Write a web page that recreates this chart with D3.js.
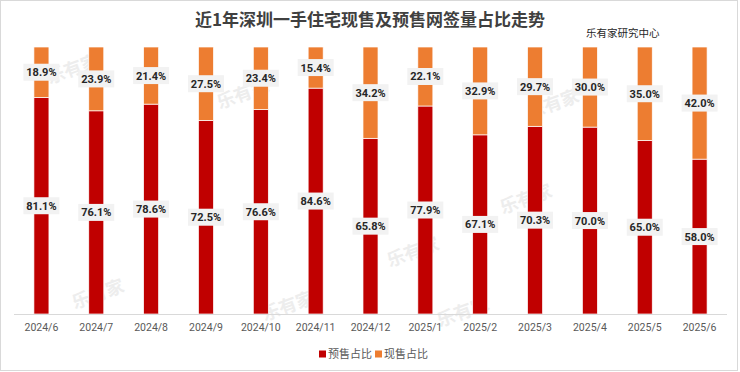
<!DOCTYPE html>
<html>
<head>
<meta charset="utf-8">
<script src="https://cdn.jsdelivr.net/npm/d3@7"></script>
<style>
  body { margin: 0; background: #fff; }
  svg { display: block; font-family: "Noto Sans CJK SC", "Microsoft YaHei", sans-serif; }
</style>
</head>
<body>
<div id="container"></div>
<script>

const months = ["2024/6", "2024/7", "2024/8", "2024/9", "2024/10", "2024/11", "2024/12",
                "2025/1", "2025/2", "2025/3", "2025/4", "2025/5", "2025/6"];
const presale = [81.1, 76.1, 78.6, 72.5, 76.6, 84.6, 65.8, 77.9, 67.1, 70.3, 70.0, 65.0, 58.0];
const spot = [18.9, 23.9, 21.4, 27.5, 23.4, 15.4, 34.2, 22.1, 32.9, 29.7, 30.0, 35.0, 42.0];
const seriesNames = ["预售占比", "现售占比"];
const colors = ["#C00000", "#ED7D31"];

function main() {
    const width = 740, height = 372;
    const svg = d3.select("#container")
        .append("svg")
        .attr("width", width)
        .attr("height", height);

    // frame
    svg.append("rect")
        .attr("x", 0.5).attr("y", 0.5)
        .attr("width", 737).attr("height", 370)
        .attr("fill", "#fff")
        .attr("stroke", "#d9d9d9");

    const xScale = d3.scaleBand()
        .domain(months)
        .range([14, 727])
        .paddingInner(0.726)
        .paddingOuter(0.363);

    const yScale = d3.scaleLinear()
        .domain([0, 100])
        .range([314, 47]);

    // faint watermarks
    const marks = [[75, 75], [245, 100], [415, 258], [528, 205], [100, 300], [290, 312], [465, 318], [555, 110]];
    svg.append("g").selectAll("text")
        .data(marks)
        .join("text")
        .attr("transform", d => `translate(${d[0]},${d[1]}) rotate(-20)`)
        .attr("text-anchor", "middle")
        .attr("font-size", 18)
        .attr("font-weight", "bold")
        .attr("fill", "#ededed")
        .text("乐有家");

    const rows = months.map((m, i) => ({ month: m, presale: presale[i], spot: spot[i] }));
    const stacked = d3.stack().keys(["presale", "spot"])(rows);

    const bars = svg.append("g");
    stacked.forEach((layer, k) => {
        bars.append("g")
            .selectAll("rect")
            .data(layer)
            .join("rect")
            .attr("x", d => xScale(d.data.month))
            .attr("width", xScale.bandwidth())
            .attr("y", d => yScale(d[1]))
            .attr("height", d => yScale(d[0]) - yScale(d[1]))
            .attr("fill", colors[k])
            .attr("stroke", "#fff")
            .attr("stroke-width", 0.7);
    });

    // axis line
    svg.append("line")
        .attr("x1", 14).attr("x2", 727)
        .attr("y1", 314.5).attr("y2", 314.5)
        .attr("stroke", "#d9d9d9");

    // data labels
    const labels = svg.append("g");
    stacked.forEach(layer => {
        const g = labels.append("g")
            .selectAll("g")
            .data(layer)
            .join("g")
            .attr("transform", d => `translate(${xScale(d.data.month) + xScale.bandwidth() / 2},${(yScale(d[0]) + yScale(d[1])) / 2})`);
        g.append("rect")
            .attr("x", -18).attr("y", -8.5)
            .attr("width", 36).attr("height", 17)
            .attr("fill", "#f2f2f2");
        g.append("text")
            .attr("text-anchor", "middle")
            .attr("dy", "0.36em")
            .attr("font-size", 11)
            .attr("font-weight", "bold")
            .attr("fill", "#262626")
            .attr("font-family", "Roboto, 'Noto Sans', sans-serif")
            .text(d => (d[1] - d[0]).toFixed(1) + "%");
    });

    // x axis labels
    svg.append("g")
        .selectAll("text")
        .data(months)
        .join("text")
        .attr("x", d => xScale(d) + xScale.bandwidth() / 2)
        .attr("y", 331)
        .attr("text-anchor", "middle")
        .attr("font-size", 10.5)
        .attr("fill", "#595959")
        .attr("font-family", "Roboto, 'Noto Sans', sans-serif")
        .text(d => d);

    // title
    svg.append("text")
        .attr("x", 370).attr("y", 26)
        .attr("text-anchor", "middle")
        .attr("font-size", 17)
        .attr("font-weight", "bold")
        .attr("fill", "#404040")
        .text("近1年深圳一手住宅现售及预售网签量占比走势");

    svg.append("text")
        .attr("x", 586).attr("y", 37)
        .attr("font-size", 10.5)
        .attr("fill", "#262626")
        .text("乐有家研究中心");

    // legend
    const legendX = [319, 375];
    const legend = svg.append("g")
        .selectAll("g")
        .data(seriesNames)
        .join("g")
        .attr("transform", (d, i) => `translate(${legendX[i]},354)`);
    legend.append("rect")
        .attr("x", 0).attr("y", -3.5)
        .attr("width", 7).attr("height", 7)
        .attr("fill", (d, i) => colors[i]);
    legend.append("text")
        .attr("x", 9).attr("dy", "0.36em")
        .attr("font-size", 11)
        .attr("fill", "#595959")
        .text(d => d);
}

main();
</script>
</body>
</html>
